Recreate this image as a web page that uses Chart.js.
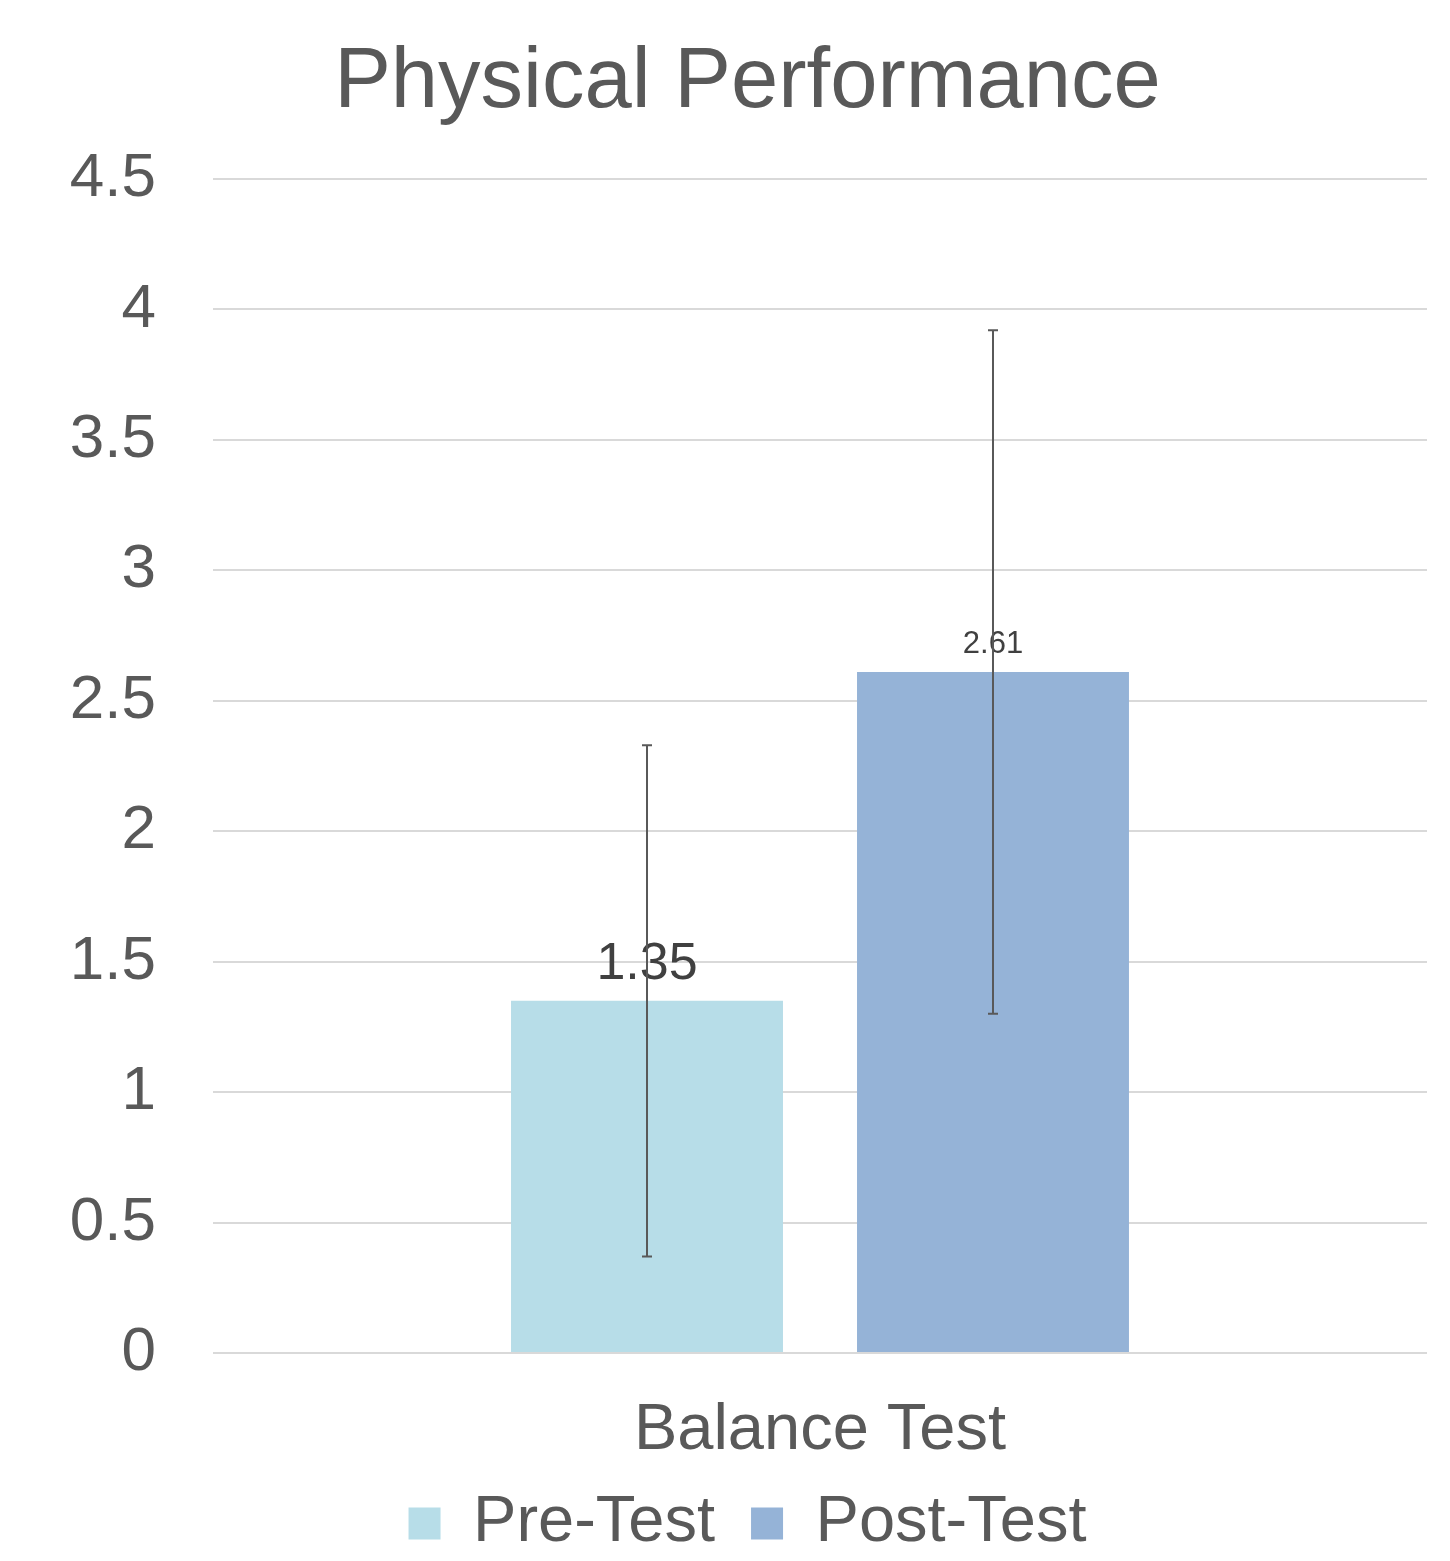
<!DOCTYPE html>
<html>
<head>
<meta charset="utf-8">
<script src="https://cdn.jsdelivr.net/npm/chart.js@4.4.1/dist/chart.umd.min.js"></script>
<style>
  html, body { margin: 0; padding: 0; background: #ffffff; }
  #wrap { width: 1450px; height: 1561px; }
</style>
</head>
<body>
<div id="wrap"><canvas id="chart" width="1450" height="1561"></canvas></div>
<script>
// data
const categories = ['Balance Test'];
const seriesNames = ['Pre-Test', 'Post-Test'];
const preTest = [1.35];
const postTest = [2.61];
const preTestErr = [0.98];
const postTestErr = [1.31];
const yMin = 0;
const yMax = 4.5;
const yStep = 0.5;

// colours
const textGrey = '#595959';
const preColor = '#B7DDE8';
const postColor = '#95B3D7';
const fontFamily = "'Liberation Sans', Arial, sans-serif";

// value labels + error bars, drawn with the chart's own scales
const barExtras = {
    id: 'barExtras',
    afterDatasetsDraw(chart) {
        const ctx = chart.ctx;
        const yScale = chart.scales.y;
        const labelSizes = [52, 31];
        const labelGaps = [22, 19];
        chart.data.datasets.forEach((ds, i) => {
            const meta = chart.getDatasetMeta(i);
            meta.data.forEach((bar, j) => {
                const v = ds.data[j];
                ctx.save();
                ctx.fillStyle = '#404040';
                ctx.font = labelSizes[i] + 'px ' + fontFamily;
                ctx.textAlign = 'center';
                ctx.textBaseline = 'alphabetic';
                ctx.fillText(v.toFixed(2), bar.x, bar.y - labelGaps[i]);
                ctx.restore();

                const err = ds.errors[j];
                const yHi = yScale.getPixelForValue(v + err);
                const yLo = yScale.getPixelForValue(v - err);
                ctx.save();
                ctx.strokeStyle = textGrey;
                ctx.lineWidth = 2;
                ctx.beginPath();
                ctx.moveTo(bar.x, yHi);
                ctx.lineTo(bar.x, yLo);
                ctx.moveTo(bar.x - 5, yHi);
                ctx.lineTo(bar.x + 5, yHi);
                ctx.moveTo(bar.x - 5, yLo);
                ctx.lineTo(bar.x + 5, yLo);
                ctx.stroke();
                ctx.restore();
            });
        });
    }
};

const ctx = document.getElementById('chart').getContext('2d');
new Chart(ctx, {
    type: 'bar',
    data: {
        labels: categories,
        datasets: [
            {
                label: seriesNames[0],
                data: preTest,
                errors: preTestErr,
                backgroundColor: preColor,
                categoryPercentage: 0.57,
                barPercentage: 0.786
            },
            {
                label: seriesNames[1],
                data: postTest,
                errors: postTestErr,
                backgroundColor: postColor,
                categoryPercentage: 0.57,
                barPercentage: 0.786
            }
        ]
    },
    options: {
        responsive: false,
        animation: false,
        layout: { padding: { left: 68, right: 23, top: 0, bottom: 0 } },
        plugins: {
            title: {
                display: true,
                text: 'Physical Performance',
                color: textGrey,
                font: { size: 85, family: fontFamily, weight: 'normal' },
                padding: { top: 33, bottom: 44 }
            },
            legend: {
                position: 'bottom',
                maxHeight: 106,
                labels: {
                    color: textGrey,
                    font: { size: 65, family: fontFamily, lineHeight: 1 },
                    boxWidth: 32,
                    boxHeight: 32,
                    padding: 36
                }
            },
            tooltip: { enabled: false }
        },
        scales: {
            x: {
                afterFit(scale) { scale.height = 102; },
                grid: { display: false },
                border: { display: false },
                ticks: {
                    color: textGrey,
                    font: { size: 65, family: fontFamily },
                    padding: 31
                }
            },
            y: {
                min: yMin,
                max: yMax,
                afterFit(scale) { scale.width = 145; },
                border: { display: false },
                grid: { color: '#D9D9D9', lineWidth: 2, drawTicks: false },
                ticks: {
                    stepSize: yStep,
                    color: textGrey,
                    font: { size: 62, family: fontFamily },
                    padding: 57,
                    callback: (v) => String(v)
                }
            }
        }
    },
    plugins: [barExtras]
});
</script>
</body>
</html>
